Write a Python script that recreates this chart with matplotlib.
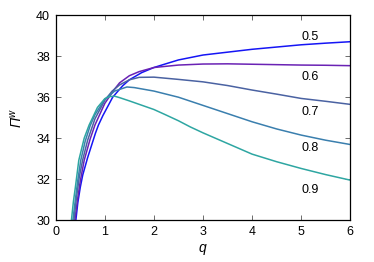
import matplotlib
matplotlib.use("Agg")
import matplotlib.pyplot as plt

plt.rcParams['font.family'] = ['Liberation Sans', 'DejaVu Sans']
plt.rcParams['mathtext.fontset'] = 'custom'
plt.rcParams['mathtext.rm'] = 'Liberation Sans:italic'
plt.rcParams['mathtext.it'] = 'Liberation Sans:italic'

labels = ["0.5", "0.6", "0.7", "0.8", "0.9"]
colors = ["#1515f5", "#6a22b4", "#4a62a2", "#3a7fae", "#2ea6a2"]

q_05 = [0.38, 0.41, 0.45, 0.5, 0.55, 0.65, 0.81, 0.87, 0.96, 1.16, 1.36, 1.5, 1.75, 2.0, 2.2, 2.5, 3.0, 3.5, 4.0, 4.5, 5.0, 5.5, 6.0]
y_05 = [29.4, 30.0, 30.85, 31.6, 32.2, 33.05, 34.25, 34.64, 35.1, 36.0, 36.55, 36.85, 37.2, 37.45, 37.6, 37.82, 38.06, 38.2, 38.34, 38.45, 38.56, 38.64, 38.71]

q_06 = [0.36, 0.39, 0.45, 0.5, 0.58, 0.7, 0.8, 1.0, 1.2, 1.3, 1.5, 1.7, 2.0, 2.5, 3.0, 3.5, 4.0, 4.5, 5.0, 5.5, 6.0]
y_06 = [29.4, 30.0, 31.1, 31.9, 32.92, 33.95, 34.65, 35.7, 36.4, 36.7, 37.05, 37.25, 37.45, 37.57, 37.62, 37.63, 37.61, 37.59, 37.57, 37.56, 37.54]

q_07 = [0.34, 0.37, 0.42, 0.48, 0.55, 0.65, 0.8, 1.0, 1.15, 1.3, 1.5, 1.7, 2.0, 2.5, 3.0, 3.5, 4.0, 4.5, 5.0, 5.5, 6.0]
y_07 = [29.4, 30.0, 31.05, 32.1, 32.95, 33.9, 34.95, 35.85, 36.3, 36.6, 36.85, 36.97, 36.98, 36.87, 36.75, 36.57, 36.35, 36.15, 35.94, 35.8, 35.65]

q_08 = [0.32, 0.35, 0.4, 0.45, 0.51, 0.6, 0.7, 0.8, 1.0, 1.2, 1.45, 1.6, 2.0, 2.5, 3.0, 3.5, 4.0, 4.5, 5.0, 5.5, 6.0]
y_08 = [29.4, 30.0, 31.0, 31.95, 32.92, 33.85, 34.6, 35.15, 35.9, 36.3, 36.5, 36.47, 36.3, 36.0, 35.6, 35.2, 34.8, 34.45, 34.15, 33.9, 33.69]

q_09 = [0.29, 0.32, 0.36, 0.4, 0.47, 0.58, 0.68, 0.85, 1.0, 1.1, 1.2, 1.3, 1.5, 2.0, 2.23, 2.5, 2.74, 3.0, 3.5, 4.0, 4.5, 5.0, 5.5, 6.0]
y_09 = [29.4, 30.0, 30.9, 31.6, 32.92, 34.0, 34.64, 35.5, 35.93, 36.03, 36.05, 35.98, 35.82, 35.4, 35.15, 34.85, 34.55, 34.26, 33.74, 33.22, 32.85, 32.52, 32.22, 31.95]

label_q = [5.19, 5.19, 5.19, 5.19, 5.19]
label_y = [38.93, 36.97, 35.27, 33.5, 31.46]

xticks = [0, 1, 2, 3, 4, 5, 6]
yticks = [30, 32, 34, 36, 38, 40]

series = [(q_05, y_05), (q_06, y_06), (q_07, y_07), (q_08, y_08), (q_09, y_09)]

fig = plt.figure(figsize=(3.74, 2.62), dpi=100)
ax = fig.add_axes([0.149, 0.160, 0.7876, 0.7816])
for (qq, yy), c in zip(series, colors):
    ax.plot(qq, yy, color=c, lw=1.1)
for lab, lx, ly in zip(labels, label_q, label_y):
    ax.text(lx, ly, lab, fontsize=9, ha='center', va='center')

ax.set_xlim(0, 6)
ax.set_ylim(30, 40)
ax.set_xticks(xticks)
ax.set_yticks(yticks)
ax.tick_params(direction='in', top=True, right=True, length=3.5, width=0.6,
               labelsize=9, colors='#555555', labelcolor='black', pad=4)
for s in ax.spines.values():
    s.set_linewidth(0.9)
ax.set_xlabel(r'$q$', fontsize=10, labelpad=3)
ax.set_ylabel(r'$\mathrm{Π}^{w}$', fontsize=10, labelpad=8)
fig.savefig("out.png", dpi=100)
